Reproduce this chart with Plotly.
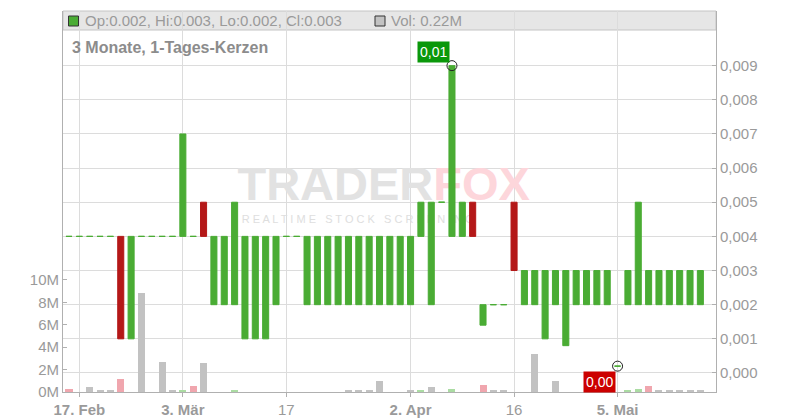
import plotly.graph_objects as go

# ---------------- data ----------------
dates = [
    "2025-02-14", "2025-02-17", "2025-02-18", "2025-02-19", "2025-02-20", "2025-02-21",
    "2025-02-24", "2025-02-25", "2025-02-26", "2025-02-27", "2025-02-28",
    "2025-03-03", "2025-03-04", "2025-03-05", "2025-03-06", "2025-03-07",
    "2025-03-10", "2025-03-11", "2025-03-12", "2025-03-13", "2025-03-14",
    "2025-03-17", "2025-03-18", "2025-03-19", "2025-03-20", "2025-03-21",
    "2025-03-24", "2025-03-25", "2025-03-26", "2025-03-27", "2025-03-28",
    "2025-03-31", "2025-04-01", "2025-04-02", "2025-04-03", "2025-04-04",
    "2025-04-07", "2025-04-08", "2025-04-09", "2025-04-10", "2025-04-11",
    "2025-04-14", "2025-04-15", "2025-04-16", "2025-04-17", "2025-04-22",
    "2025-04-23", "2025-04-24", "2025-04-25", "2025-04-28", "2025-04-29",
    "2025-04-30", "2025-05-02", "2025-05-05", "2025-05-06", "2025-05-07",
    "2025-05-08", "2025-05-09", "2025-05-12", "2025-05-13", "2025-05-14",
    "2025-05-15",
]
opens = [
    0.004, 0.004, 0.004, 0.004, 0.004, 0.004,
    0.001, 0.004, 0.004, 0.004, 0.004,
    0.004, 0.004, 0.005, 0.002, 0.002,
    0.002, 0.001, 0.001, 0.001, 0.002,
    0.004, 0.004, 0.002, 0.002, 0.002,
    0.002, 0.002, 0.002, 0.002, 0.002,
    0.002, 0.002, 0.002, 0.004, 0.002,
    0.005, 0.004, 0.004, 0.005, 0.0014,
    0.002, 0.002, 0.005, 0.002, 0.002,
    0.001, 0.002, 0.0008, 0.002, 0.002,
    0.002, 0.002, 0.0002, 0.002, 0.002,
    0.002, 0.002, 0.002, 0.002, 0.002,
    0.002,
]
closes = [
    0.004, 0.004, 0.004, 0.004, 0.004, 0.001,
    0.004, 0.004, 0.004, 0.004, 0.004,
    0.007, 0.004, 0.004, 0.004, 0.004,
    0.005, 0.004, 0.004, 0.004, 0.004,
    0.004, 0.004, 0.004, 0.004, 0.004,
    0.004, 0.004, 0.004, 0.004, 0.004,
    0.004, 0.004, 0.004, 0.005, 0.005,
    0.005, 0.009, 0.005, 0.004, 0.002,
    0.002, 0.002, 0.003, 0.003, 0.003,
    0.003, 0.003, 0.003, 0.003, 0.003,
    0.003, 0.003, 0.0002, 0.003, 0.005,
    0.003, 0.003, 0.003, 0.003, 0.003,
    0.003,
]
highs = [max(o, c) for o, c in zip(opens, closes)]
lows = [min(o, c) for o, c in zip(opens, closes)]
volumes = [
    0.27e6, 0.0, 0.45e6, 0.2e6, 0.1e6, 1.15e6,
    0.0, 8.8e6, 0.0, 2.7e6, 0.1e6,
    0.1e6, 0.55e6, 2.6e6, 0.0, 0.0,
    0.15e6, 0.0, 0.0, 0.0, 0.0,
    0.0, 0.0, 0.0, 0.0, 0.0,
    0.0, 0.1e6, 0.1e6, 0.2e6, 1.0e6,
    0.0, 0.0, 0.2e6, 0.2e6, 0.45e6,
    0.0, 0.3e6, 0.0, 0.0, 0.6e6,
    0.2e6, 0.1e6, 0.0, 0.0, 3.4e6,
    0.0, 1.0e6, 0.0, 0.0, 0.0,
    0.0, 0.15e6, 0.0, 0.1e6, 0.25e6,
    0.5e6, 0.1e6, 0.15e6, 0.15e6, 0.15e6,
    0.22e6,
]
first_day_down = True  # close of the first day was below the prior (unseen) close

tick_dates = ["2025-02-17", "2025-03-03", "2025-03-17", "2025-04-02", "2025-04-16", "2025-05-05"]
tick_labels = ["<b>17. Feb</b>", "<b>3. Mär</b>", "17", "<b>2. Apr</b>", "16", "<b>5. Mai</b>"]
price_ticks = [0.000, 0.001, 0.002, 0.003, 0.004, 0.005, 0.006, 0.007, 0.008, 0.009]
vol_ticks = [0, 2e6, 4e6, 6e6, 8e6, 10e6]
vol_tick_labels = ["0M", "2M", "4M", "6M", "8M", "10M"]

title_text = "3 Monate, 1-Tages-Kerzen"

# ---------------- styling ----------------
GREEN = "#4aac34"
RED = "#b41818"
VOL_GRAY = "#c2c2c2"
VOL_PINK = "#f0a6ae"
VOL_GREEN = "#abdca3"
TXT = "#9a9a9a"
GRID = "#dcdcdc"
AXIS = "#b0b0b0"
FONT = "Liberation Sans, Arial, sans-serif"

OFF = 8  # page body margin of the generated html
W, H = 800, 420
PW, PH = 653, 381
ML, MT = 63 - OFF, 11 - OFF
MR, MB = W - ML - PW, H - MT - PH


def px_x(px):
    return (px - OFF - ML) / PW


def px_y(py):
    return (H - MB - (py - OFF)) / PH


xs = list(range(len(dates)))
tick_idx = [dates.index(d) for d in tick_dates]

non_doji = [i for i in xs if opens[i] != closes[i]]
doji = [i for i in xs if opens[i] == closes[i]]

vol_colors = []
for i in xs:
    if i == 0:
        vol_colors.append(VOL_PINK if first_day_down else VOL_GRAY)
    elif closes[i] > closes[i - 1]:
        vol_colors.append(VOL_GREEN)
    elif closes[i] < closes[i - 1]:
        vol_colors.append(VOL_PINK)
    else:
        vol_colors.append(VOL_GRAY)

fig = go.Figure()

# watermark (base subplot, drawn beneath the overlaid price/volume subplots)
fig.add_trace(go.Scatter(
    x=[30.4], y=[0.535], mode="text",
    text=["<b><span style='color:#e2e2e2'>TRADER</span><span style='color:#fdd6db'>FOX</span></b>"],
    textfont=dict(size=47, family=FONT), hoverinfo="skip", showlegend=False,
    xaxis="x", yaxis="y",
))
fig.add_trace(go.Scatter(
    x=[27.9], y=[0.452], mode="text",
    text=["R E A L T I M E   S T O C K   S C R E E N I N G"],
    textfont=dict(size=11, family=FONT, color="#dedede"), hoverinfo="skip", showlegend=False,
    xaxis="x", yaxis="y",
))

# volume
fig.add_trace(go.Bar(
    x=xs, y=volumes, marker=dict(color=vol_colors, line=dict(width=0)),
    width=0.68, xaxis="x", yaxis="y3", showlegend=False, hoverinfo="skip",
))

# candles
fig.add_trace(go.Candlestick(
    x=[xs[i] for i in non_doji],
    open=[opens[i] for i in non_doji], high=[highs[i] for i in non_doji],
    low=[lows[i] for i in non_doji], close=[closes[i] for i in non_doji],
    increasing=dict(line=dict(color=GREEN, width=1), fillcolor=GREEN),
    decreasing=dict(line=dict(color=RED, width=1), fillcolor=RED),
    whiskerwidth=0, xaxis="x", yaxis="y2", showlegend=False,
))
fig.add_trace(go.Candlestick(
    x=[xs[i] for i in doji],
    open=[opens[i] for i in doji], high=[highs[i] for i in doji],
    low=[lows[i] for i in doji], close=[closes[i] for i in doji],
    increasing=dict(line=dict(color=GREEN, width=1), fillcolor=GREEN),
    decreasing=dict(line=dict(color=GREEN, width=1), fillcolor=GREEN),
    whiskerwidth=0, xaxis="x", yaxis="y2", showlegend=False,
))

# high / low markers
i_hi = max(xs, key=lambda i: highs[i])
i_lo = min(xs, key=lambda i: lows[i])
fig.add_trace(go.Scatter(
    x=[i_hi, i_lo], y=[highs[i_hi], lows[i_lo]], mode="markers",
    marker=dict(symbol="circle-open", size=10, color="#222222", line=dict(width=1)),
    xaxis="x", yaxis="y2", showlegend=False, hoverinfo="skip",
))


def fmt2(v):
    return f"{v:.2f}".replace(".", ",")


annotations = [
    dict(x=i_hi, y=highs[i_hi], xref="x", yref="y2", text=fmt2(highs[i_hi]),
         showarrow=False, xanchor="right", yanchor="bottom", xshift=-2, yshift=3,
         bgcolor="#0a980a", borderpad=2, font=dict(color="white", size=14, family=FONT)),
    dict(x=i_lo, y=lows[i_lo], xref="x", yref="y2", text=fmt2(lows[i_lo]),
         showarrow=False, xanchor="right", yanchor="top", xshift=-2, yshift=-5,
         bgcolor="#cc0000", borderpad=2, font=dict(color="white", size=14, family=FONT)),
    dict(x=px_x(70), y=px_y(47), xref="paper", yref="paper", text=f"<b>{title_text}</b>",
         showarrow=False, xanchor="left", yanchor="middle",
         font=dict(color="#8c8c8c", size=16, family=FONT)),
    dict(x=px_x(83), y=px_y(20.5), xref="paper", yref="paper",
         text=f"Op:{opens[-1]:.3f}, Hi:{highs[-1]:.3f}, Lo:{lows[-1]:.3f}, Cl:{closes[-1]:.3f}",
         showarrow=False, xanchor="left", yanchor="middle",
         font=dict(color=TXT, size=15, family=FONT)),
    dict(x=px_x(389), y=px_y(20.5), xref="paper", yref="paper",
         text=f"Vol: {volumes[-1] / 1e6:.2f}M",
         showarrow=False, xanchor="left", yanchor="middle",
         font=dict(color=TXT, size=15, family=FONT)),
]

shapes = [
    dict(type="rect", xref="paper", yref="paper", x0=0, x1=1, y0=px_y(30), y1=1,
         fillcolor="#e6e6e6", line=dict(color="#c4c4c4", width=1), layer="below"),
    dict(type="rect", xref="paper", yref="paper", x0=px_x(68.5), x1=px_x(78.5),
         y0=px_y(26), y1=px_y(16), fillcolor=GREEN, line=dict(color="#333333", width=1)),
    dict(type="rect", xref="paper", yref="paper", x0=px_x(375), x1=px_x(385),
         y0=px_y(26), y1=px_y(16), fillcolor=VOL_GRAY, line=dict(color="#333333", width=1)),
]

fig.update_layout(
    width=W, height=H,
    margin=dict(l=ML, r=MR, t=MT, b=MB, pad=0),
    paper_bgcolor="white", plot_bgcolor="white",
    separators=",.",
    font=dict(family=FONT, color=TXT, size=15),
    showlegend=False,
    boxgap=0.2, boxgroupgap=0.27,
    bargap=0,
    xaxis=dict(
        range=[-0.58, 62.51], tickvals=tick_idx, ticktext=tick_labels,
        showgrid=True, gridcolor=GRID, gridwidth=1, zeroline=False,
        showline=True, linecolor=AXIS, linewidth=1,
        ticks="outside", ticklen=4, tickcolor=AXIS,
        tickfont=dict(size=15, color=TXT, family=FONT),
        rangeslider=dict(visible=False), fixedrange=True,
    ),
    yaxis=dict(range=[0, 1], visible=False, fixedrange=True),
    yaxis2=dict(
        overlaying="y", side="right", anchor="x",
        range=[-0.000557, 0.0106], tickvals=price_ticks, tickformat=".3f",
        showgrid=True, gridcolor=GRID, gridwidth=1, zeroline=False,
        showline=True, linecolor=AXIS, linewidth=1,
        ticks="inside", ticklen=4, tickcolor=AXIS,
        tickfont=dict(size=15, color=TXT, family=FONT), fixedrange=True,
    ),
    yaxis3=dict(
        overlaying="y", side="left", anchor="x",
        range=[0, 34e6], tickvals=vol_ticks, ticktext=vol_tick_labels,
        showgrid=False, zeroline=False,
        showline=True, linecolor=AXIS, linewidth=1,
        ticks="inside", ticklen=4, tickcolor=AXIS,
        tickfont=dict(size=15, color=TXT, family=FONT), fixedrange=True,
    ),
    annotations=annotations,
    shapes=shapes,
)

fig.write_html("out.html")
